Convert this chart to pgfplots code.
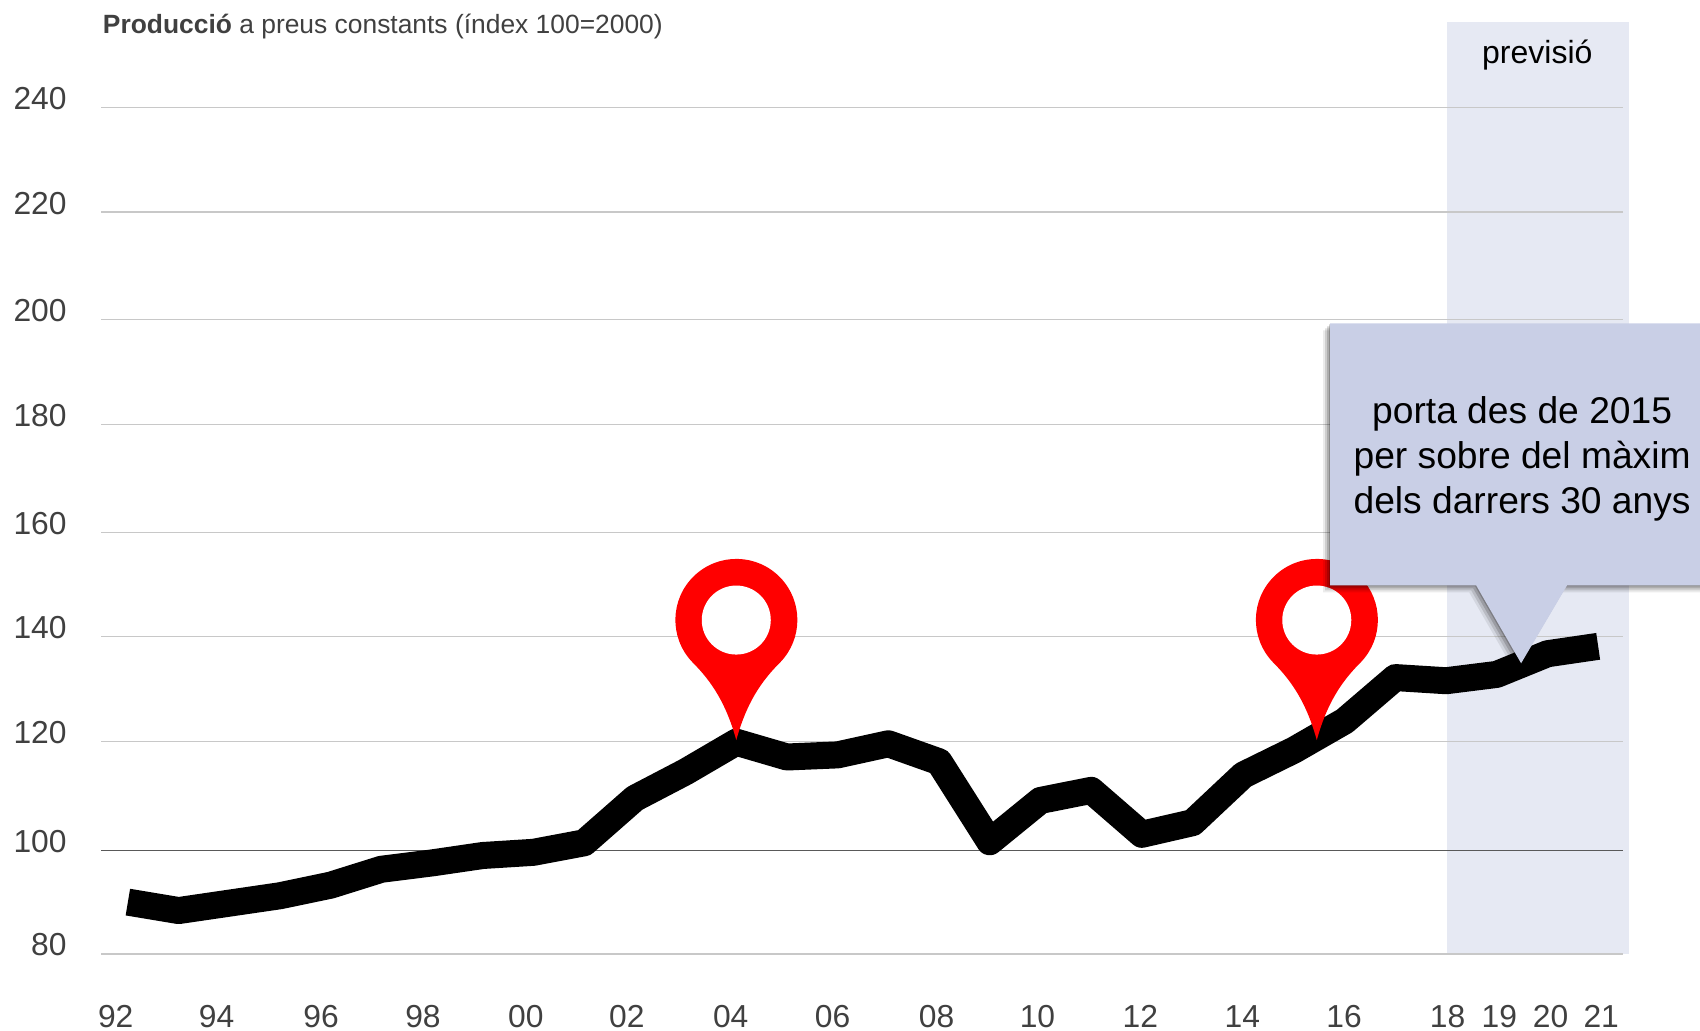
\documentclass[border=0pt]{standalone}
\usepackage{fontspec}
\setmainfont{Liberation Sans}
\usepackage{pgfplots}
\pgfplotsset{compat=1.18}
\definecolor{TickC}{HTML}{404040}
\definecolor{GridC}{HTML}{C8C8C8}
\definecolor{BaseC}{HTML}{595959}
\definecolor{ShadeC}{HTML}{E6E9F3}
\definecolor{BoxC}{HTML}{C9CFE6}
\definecolor{PinC}{HTML}{FF0000}

% map pin, #1 #2 = tip in axis units; local units are image pixels
\newcommand{\pin}[2]{%
  \begin{scope}[shift={(axis cs:#1,#2)},x=.5pt,y=.5pt]
    \fill[PinC] (0,0) .. controls (-10,36) and (-24,58) .. (-44,78)
      arc[start angle=223.7,end angle=-43.7,radius=30.5pt]
      .. controls (24,58) and (10,36) .. (0,0) -- cycle;
    \fill[white] (0,120) circle[radius=17.25pt];
  \end{scope}}
% right edge runs past the page so the shadow does not show there
\newcommand{\boxpath}{(-191,340) -- (200,340) -- (200,78) -- (46,78) -- (0,0) -- (-45,78) -- (-191,78) -- cycle}

\begin{document}
\begin{tikzpicture}
\begin{axis}[
  at={(50.5pt,38.5pt)}, anchor=south west,
  scale only axis, width=761pt, height=466pt,
  set layers=standard, clip=false,
  xmin=1991.47, xmax=2021.49, ymin=80, ymax=256,
  axis line style={draw=none},
  major tick length=0pt,
  % the reference's gridlines are not quite evenly spaced
  ytick={80,99.6,120.2,140,159.6,180,199.8,220.1,239.9},
  yticklabels={80,100,120,140,160,180,200,220,240},
  ymajorgrids=true,
  grid style={draw=GridC,line width=.6pt},
  xtick={1991.76,1993.75,1995.81,1997.82,1999.85,2001.84,2003.89,2005.90,2007.95,
         2009.94,2011.97,2013.98,2015.99,2018.03,2019.05,2020.06,2021.06},
  xticklabels={92,94,96,98,00,02,04,06,08,10,12,14,16,18,19,20,21},
  tick label style={font=\fontsize{15.9}{18}\selectfont,color=TickC,
    /pgf/number format/assume math mode=true},
  yticklabel style={anchor=east,inner sep=0pt,xshift=-17pt,yshift=4.5pt},
  xticklabel style={anchor=base,inner sep=0pt,yshift=-36.75pt},
]
\addplot[draw=none,fill=ShadeC,on layer=axis background] coordinates {
  (2018.02,80) (2018.02,256) (2021.6,256) (2021.6,80)} -- cycle;
\addplot[BaseC,line width=.7pt] coordinates {(1991.47,99.6) (2021.49,99.6)};

\addplot[black,line width=13.5pt,line join=round] coordinates {
  (1992,89.8) (1993,88.2) (1994,89.6) (1995,91.0) (1996,93.0) (1997,96.0)
  (1998,97.2) (1999,98.6) (2000,99.2) (2001,101.0) (2002,109.4) (2003,114.4)
  (2004,120.0) (2005,117.2) (2006,117.6) (2007,119.7) (2008,116.3) (2009,101.2)
  (2010,109.0) (2011,110.9) (2012,102.6) (2013,104.8) (2014,113.8) (2015,118.5)
  (2016,124.0) (2017,132.2) (2018,131.6) (2019,132.8) (2020,136.7) (2021,138.1)};

\pin{2004}{120.4}
\pin{2015.45}{120.4}

\node[anchor=base west,inner sep=0pt,text=TickC,font=\fontsize{13.2}{15}\selectfont]
  at (axis cs:1991.50,253.9) {\textbf{Producció} a preus constants (índex 100=2000)};
\node[anchor=base,inner sep=0pt,text=black,font=\fontsize{16}{19}\selectfont]
  at (axis cs:2019.8,248.1) {previsió};

\begin{scope}[shift={(axis cs:2019.48,134.9)},x=.5pt,y=.5pt]
  \fill[black,opacity=.08,shift={(-7,-7)}] \boxpath;
  \fill[black,opacity=.12,shift={(-5,-5)}] \boxpath;
  \fill[black,opacity=.16,shift={(-3,-3)}] \boxpath;
  \fill[black,opacity=.2,shift={(-1,-1)}] \boxpath;
  \fill[BoxC] \boxpath;
  \node[align=center,inner sep=0pt,text=black,font=\fontsize{18.6}{22.5}\selectfont]
    at (1,204) {porta des de 2015\\per sobre del màxim\\dels darrers 30 anys};
\end{scope}
\end{axis}
\pgfresetboundingbox
\useasboundingbox (0,0) rectangle (850pt,515.5pt);
\end{tikzpicture}
\end{document}
